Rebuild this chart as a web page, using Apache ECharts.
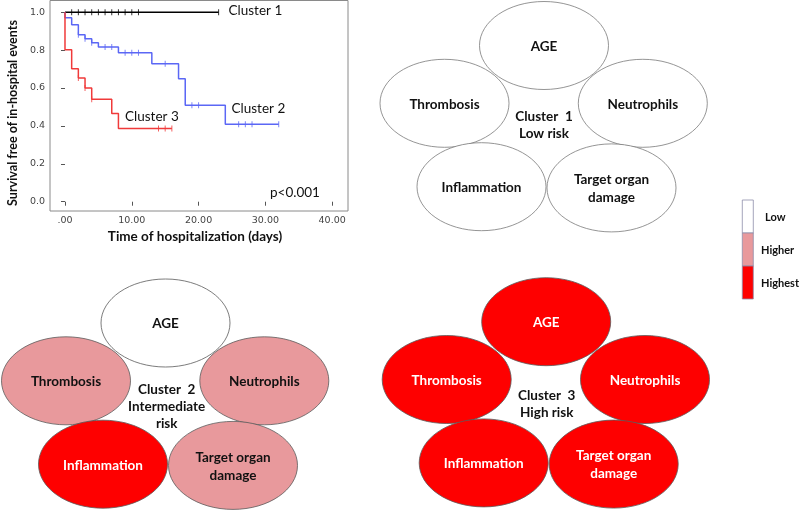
<!DOCTYPE html>
<html>
<head>
<meta charset="utf-8">
<script src="https://cdn.jsdelivr.net/npm/echarts@6/dist/echarts.min.js"></script>
<style>
html,body{margin:0;padding:0;background:#fff;}
#chart{width:800px;height:511px;}
</style>
</head>
<body>
<div id="chart"></div>
<script>
// ---------- Kaplan-Meier data ----------
const timeTicks = [0, 10, 20, 30, 40];
const survTicks = [0, 0.2, 0.4, 0.6, 0.8, 1.0];

const cluster1Steps = [[0, 1.0], [23, 1.0]];
const cluster1Censor = [[1, 1.0], [2, 1.0], [3, 1.0], [4, 1.0], [5, 1.0], [6, 1.0], [7, 1.0], [8, 1.0], [9, 1.0], [10, 1.0], [11, 1.0], [23, 1.0]];

const cluster2Steps = [[0, 1.0], [0, 0.970], [1, 0.934], [2, 0.881], [3, 0.860], [4, 0.839], [5, 0.816], [8, 0.786], [13, 0.728], [17, 0.649], [18, 0.509], [24, 0.409], [32, 0.409]];
const cluster2Censor = [[2, 0.881], [3, 0.860], [4, 0.839], [6, 0.816], [7, 0.816], [9, 0.786], [10, 0.786], [11, 0.786], [15, 0.728], [19, 0.509], [20, 0.509], [26, 0.409], [27, 0.409], [28, 0.409], [32, 0.409]];

const cluster3Steps = [[0, 1.0], [0, 0.802], [1, 0.702], [2, 0.653], [3, 0.600], [4, 0.540], [7, 0.465], [8, 0.386], [16, 0.386]];
const cluster3Censor = [[2, 0.653], [3, 0.600], [4, 0.540], [14, 0.386], [15, 0.386], [16, 0.386]];

// ---------- Risk-factor diagrams ----------
const factors = ['AGE', 'Thrombosis', 'Neutrophils', 'Inflammation', 'Target organ\ndamage'];
const cluster1Level = [0, 0, 0, 0, 0];
const cluster2Level = [0, 1, 1, 2, 1];
const cluster3Level = [2, 2, 2, 2, 2];
const levelNames = ['Low', 'Higher', 'Highest'];
const clusterTitles = ['Cluster  1\nLow risk', 'Cluster  2\nIntermediate\nrisk', 'Cluster  3\nHigh risk'];

// ---------- styling / layout ----------
const levelColors = ['#ffffff', '#e8999c', '#fe0000'];
const levelText = ['#111111', '#111111', '#ffffff'];
const lineColors = ['#000000', '#5b67f5', '#f03a3a'];
const F = 'Lato, "Open Sans", sans-serif';

const diagrams = [
  {cx: 544, cy: 45.5, tx: 544, ty: 125, levels: cluster1Level, stroke: '#7a7a7a'},
  {cx: 165.5, cy: 323, tx: 166.7, ty: 406.7, levels: cluster2Level, stroke: '#5a5a5a'},
  {cx: 546.2, cy: 321.7, tx: 546.7, ty: 404.2, levels: cluster3Level, stroke: '#5a5a5a'}
];
const offsets = [[0, 0], [-99.5, 57.8], [98.8, 57.8], [-62.5, 141.2], [67.5, 142.4]];
const RX = 64.5, RY = 44;

const graphics = [];
diagrams.forEach(function (d, di) {
  factors.forEach(function (f, i) {
    const x = d.cx + offsets[i][0], y = d.cy + offsets[i][1];
    const lv = d.levels[i];
    graphics.push({
      type: 'ellipse', shape: {cx: x, cy: y, rx: RX, ry: RY},
      style: {fill: levelColors[lv], stroke: d.stroke, lineWidth: 0.8}, z: 10
    });
    graphics.push({
      type: 'text', x: x, y: y + 1, z: 11,
      style: {text: f, fill: levelText[lv], font: 'bold 13.5px ' + F, align: 'center', verticalAlign: 'middle', lineHeight: 18}
    });
  });
  graphics.push({
    type: 'text', x: d.tx, y: d.ty, z: 11,
    style: {text: clusterTitles[di], fill: '#111', font: 'bold 13.5px ' + F, align: 'center', verticalAlign: 'middle', lineHeight: 17.3}
  });
});

// legend colour bar
const legX = 742.3, legY = 200, legW = 11, legH = 33;
const legLabelX = [765, 761, 761];
levelNames.forEach(function (n, i) {
  graphics.push({
    type: 'rect', shape: {x: legX, y: legY + i * legH, width: legW, height: legH},
    style: {fill: levelColors[i], stroke: '#8e8eaa', lineWidth: 0.8}, z: 10
  });
  graphics.push({
    type: 'text', x: legLabelX[i], y: legY + i * legH + legH / 2 + 0.5, z: 11,
    style: {text: n, fill: '#111', font: 'bold 11px ' + F, align: 'left', verticalAlign: 'middle'}
  });
});

// KM annotations
graphics.push({type: 'text', x: 228.5, y: 11, z: 11, style: {text: 'Cluster 1', fill: '#111', font: '13.5px ' + F, align: 'left', verticalAlign: 'middle'}});
graphics.push({type: 'text', x: 231.5, y: 108.7, z: 11, style: {text: 'Cluster 2', fill: '#111', font: '13.5px ' + F, align: 'left', verticalAlign: 'middle'}});
graphics.push({type: 'text', x: 125, y: 116.7, z: 11, style: {text: 'Cluster 3', fill: '#111', font: '13.5px ' + F, align: 'left', verticalAlign: 'middle'}});
graphics.push({type: 'text', x: 270, y: 192.5, z: 11, style: {text: 'p<0.001', fill: '#111', font: '13.5px ' + F, align: 'left', verticalAlign: 'middle'}});
graphics.push({type: 'text', x: 195, y: 237, z: 11, style: {text: 'Time of hospitalization (days)', fill: '#111', font: 'bold 13.5px ' + F, align: 'center', verticalAlign: 'middle'}});
graphics.push({type: 'text', x: 13, y: 113, rotation: Math.PI / 2, z: 11, style: {text: 'Survival free of in-hospital events', fill: '#111', font: 'bold 12.5px ' + F, align: 'center', verticalAlign: 'middle'}});

function stepSeries(name, data, color) {
  return {name: name, type: 'line', step: 'end', data: data, symbol: 'none', silent: true,
    lineStyle: {color: color, width: 1.5}, z: 3, animation: false};
}
function censorSeries(name, data, color) {
  return {name: name, type: 'scatter', data: data, symbol: 'rect', symbolSize: [1, 6], silent: true,
    itemStyle: {color: color}, z: 4, animation: false};
}

const chart = echarts.init(document.getElementById('chart'), null, {renderer: 'canvas'});
chart.setOption({
  animation: false,
  backgroundColor: '#ffffff',
  grid: {left: 50, top: 0.5, width: 298, height: 210.5, show: true, borderColor: '#8a8a8a', borderWidth: 1, backgroundColor: 'transparent'},
  xAxis: {
    type: 'value', min: -2.245, max: 42.37,
    axisLine: {show: false},
    splitLine: {show: false},
    axisTick: {show: true, length: 4, customValues: timeTicks, lineStyle: {color: '#555'}},
    axisLabel: {customValues: timeTicks, color: '#444', fontFamily: 'DejaVu Sans', fontSize: 9.5, margin: 5,
      formatter: function (v) { return v === 0 ? '.00' : v.toFixed(2); }}
  },
  yAxis: {
    type: 'value', min: -0.049, max: 1.0616,
    axisLine: {show: false},
    splitLine: {show: false},
    axisTick: {show: true, length: 4, customValues: survTicks, lineStyle: {color: '#555'}},
    axisLabel: {customValues: survTicks, color: '#444', fontFamily: 'DejaVu Sans', fontSize: 9.5, margin: 5,
      formatter: function (v) { return v.toFixed(1); }}
  },
  graphic: graphics,
  series: [
    stepSeries('Cluster 1', cluster1Steps, lineColors[0]),
    censorSeries('Cluster 1 censored', cluster1Censor, lineColors[0]),
    stepSeries('Cluster 2', cluster2Steps, lineColors[1]),
    censorSeries('Cluster 2 censored', cluster2Censor, lineColors[1]),
    stepSeries('Cluster 3', cluster3Steps, lineColors[2]),
    censorSeries('Cluster 3 censored', cluster3Censor, lineColors[2])
  ]
});
</script>
</body>
</html>
